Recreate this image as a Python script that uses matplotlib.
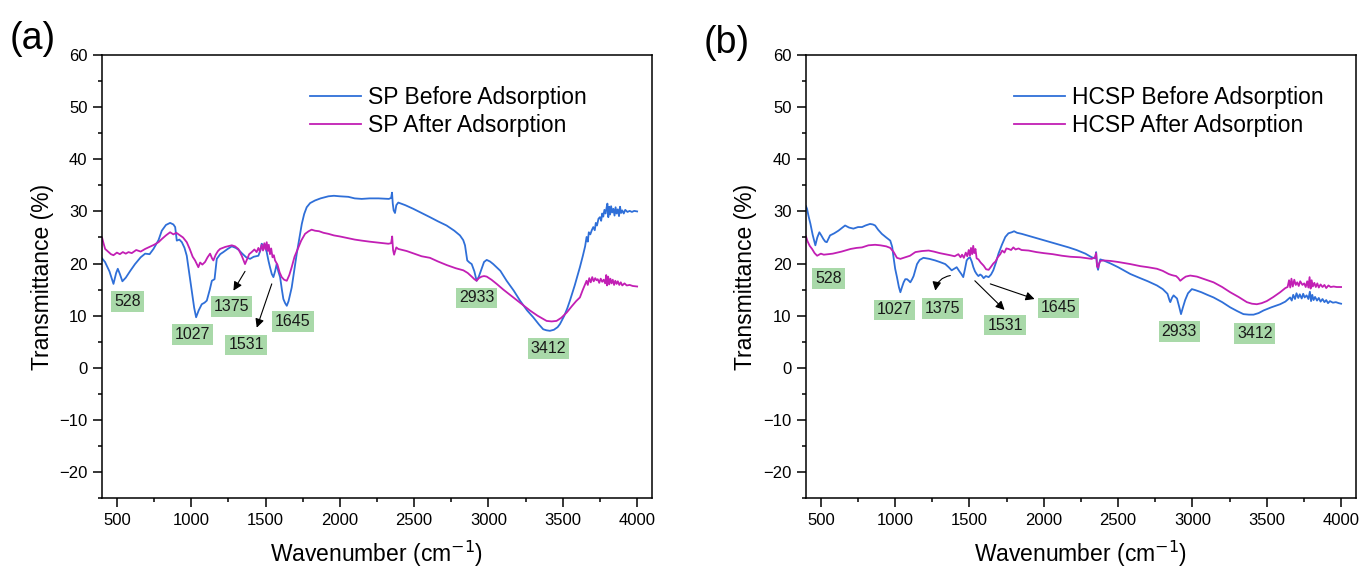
import matplotlib
matplotlib.use("Agg")
import matplotlib.pyplot as plt
import numpy as np
from matplotlib.ticker import MultipleLocator

# ============================================================
# Global style
# ============================================================
plt.rcParams.update({
    "font.family": "sans-serif",
    "font.sans-serif": ["Liberation Sans", "DejaVu Sans"],
    "font.size": 12,
    "axes.linewidth": 1.1,
    "xtick.labelsize": 12,
    "ytick.labelsize": 12,
})

BLUE = "#2f6fd8"
MAGENTA = "#c21fb4"
BOX_GREEN = "#a9d9a9"

# ============================================================
# Data: (wavenumber, transmittance)
# ============================================================
sp_before = [
    (400, 21.0), (420, 20.3), (450, 18.5), (477, 16.1), (495, 18.2), (506, 19.0),
    (520, 18.0), (537, 16.6), (560, 17.3), (590, 18.6), (622, 19.9), (660, 21.2),
    (690, 21.9), (720, 21.8), (746, 22.8), (780, 24.5), (802, 26.3), (830, 27.4),
    (858, 27.8), (880, 27.5), (892, 27.0), (903, 24.4), (920, 24.6), (937, 24.1),
    (955, 23.0), (970, 21.5), (990, 17.5), (1004, 14.8), (1020, 11.5), (1033, 9.7),
    (1050, 11.0), (1071, 12.2), (1090, 12.5), (1105, 12.9), (1125, 15.0), (1139, 16.7),
    (1157, 17.0), (1172, 20.9), (1195, 21.8), (1216, 22.2), (1245, 22.8), (1273, 23.3),
    (1300, 23.0), (1320, 22.6), (1340, 22.0), (1370, 21.2), (1396, 20.9), (1420, 21.3),
    (1452, 21.5), (1465, 22.5), (1474, 23.8), (1485, 23.5), (1497, 23.2), (1508, 22.2),
    (1520, 20.5), (1530, 19.3), (1542, 18.0), (1553, 17.4), (1565, 18.6), (1575, 19.9),
    (1586, 18.5), (1598, 17.4), (1610, 15.0), (1620, 13.2), (1632, 12.4), (1643, 11.9),
    (1655, 12.8), (1665, 14.0), (1676, 15.4), (1692, 18.5), (1710, 21.9), (1727, 24.8),
    (1744, 27.6), (1760, 29.5), (1777, 30.8), (1800, 31.6), (1833, 32.1), (1870, 32.5),
    (1923, 32.9), (1960, 33.0), (2000, 32.9), (2057, 32.8), (2100, 32.5), (2147, 32.4),
    (2200, 32.5), (2260, 32.5), (2330, 32.4), (2345, 32.6), (2351, 33.6), (2356, 31.5),
    (2362, 30.2), (2371, 29.7), (2380, 31.2), (2393, 31.7), (2440, 31.2), (2494, 30.5),
    (2550, 29.7), (2606, 28.9), (2660, 28.1), (2718, 27.3), (2770, 26.3), (2808, 25.4),
    (2830, 24.5), (2842, 23.5), (2852, 21.5), (2857, 20.6), (2872, 20.2), (2887, 19.9),
    (2905, 18.5), (2920, 16.7), (2935, 17.5), (2954, 19.0), (2970, 20.3), (2988, 20.7),
    (3010, 20.4), (3032, 19.9), (3080, 18.6), (3122, 16.7), (3170, 14.8), (3212, 12.9),
    (3260, 11.0), (3301, 9.7), (3340, 8.3), (3368, 7.4), (3390, 7.2), (3413, 7.1),
    (3440, 7.3), (3465, 7.8), (3481, 8.4), (3510, 10.0), (3530, 11.4), (3548, 12.9),
    (3580, 15.8), (3600, 17.8), (3615, 19.3), (3635, 21.5), (3650, 23.3), (3660, 25.1),
    (3668, 24.2), (3675, 26.0), (3685, 25.6), (3695, 26.4), (3705, 27.0), (3715, 26.4),
    (3722, 27.8), (3730, 27.3), (3740, 28.6), (3750, 28.9), (3758, 28.2), (3765, 29.6),
    (3772, 29.0), (3780, 30.3), (3788, 29.6), (3795, 30.8), (3800, 31.5), (3806, 28.9),
    (3812, 30.9), (3818, 29.4), (3825, 31.0), (3832, 29.8), (3840, 30.5), (3848, 29.2),
    (3855, 30.8), (3862, 29.6), (3870, 30.4), (3878, 29.1), (3885, 30.9), (3892, 29.7),
    (3900, 30.2), (3910, 29.6), (3920, 30.3), (3935, 29.9), (3950, 30.1), (3965, 29.9),
    (3980, 30.1), (4000, 30.0),
]

sp_after = [
    (400, 25.0), (410, 23.9), (421, 22.8), (440, 22.3), (460, 21.8), (477, 21.6),
    (500, 22.1), (520, 21.8), (540, 22.2), (560, 21.9), (578, 22.2), (600, 22.0),
    (630, 22.6), (660, 22.3), (690, 22.8), (720, 23.2), (750, 23.6), (780, 24.1),
    (802, 24.7), (830, 25.4), (858, 26.0), (880, 25.6), (900, 25.9), (925, 25.4),
    (945, 25.0), (970, 24.1), (990, 22.8), (1010, 21.3), (1026, 20.6), (1048, 19.3),
    (1060, 20.2), (1075, 19.8), (1093, 20.3), (1110, 21.2), (1127, 21.9), (1140, 21.0),
    (1149, 20.6), (1165, 21.7), (1180, 22.4), (1194, 22.8), (1230, 23.2), (1273, 23.5),
    (1295, 23.3), (1317, 22.8), (1340, 21.5), (1362, 19.9), (1375, 20.8), (1390, 21.8),
    (1407, 22.2), (1425, 22.7), (1440, 22.2), (1452, 23.0), (1462, 22.3), (1474, 23.6),
    (1483, 22.5), (1492, 23.9), (1500, 22.7), (1508, 24.1), (1515, 22.4), (1522, 23.6),
    (1530, 21.8), (1538, 22.9), (1547, 21.2), (1556, 21.6), (1564, 20.6), (1580, 19.8),
    (1595, 18.3), (1609, 17.4), (1625, 16.9), (1643, 16.7), (1660, 17.8), (1676, 19.3),
    (1695, 21.3), (1721, 23.1), (1740, 24.4), (1766, 25.7), (1790, 26.2), (1810, 26.5),
    (1833, 26.3), (1860, 26.2), (1890, 25.9), (1923, 25.7), (1960, 25.4), (2000, 25.2),
    (2050, 24.9), (2100, 24.6), (2147, 24.4), (2200, 24.2), (2260, 24.0), (2326, 23.8),
    (2345, 23.9), (2352, 25.2), (2358, 22.6), (2365, 21.7), (2372, 22.4), (2380, 23.1),
    (2393, 22.8), (2450, 22.4), (2500, 21.9), (2550, 21.4), (2606, 21.1), (2660, 20.4),
    (2720, 19.7), (2780, 19.1), (2831, 18.7), (2860, 18.2), (2887, 17.5), (2905, 17.0),
    (2920, 16.7), (2935, 17.2), (2954, 17.5), (2970, 17.6), (2988, 17.5), (3020, 16.9),
    (3055, 16.1), (3100, 15.0), (3167, 13.5), (3220, 12.3), (3279, 11.0), (3330, 10.0),
    (3391, 9.0), (3425, 8.9), (3458, 9.0), (3490, 9.6), (3526, 10.6), (3560, 11.8),
    (3590, 12.8), (3615, 13.5), (3635, 15.0), (3650, 16.0), (3660, 16.7), (3668, 15.9),
    (3678, 17.2), (3688, 16.4), (3698, 17.4), (3708, 16.6), (3718, 17.2), (3727, 16.8),
    (3735, 17.0), (3745, 16.3), (3755, 17.1), (3765, 16.5), (3775, 16.9), (3785, 16.2),
    (3792, 17.8), (3798, 15.8), (3805, 17.5), (3812, 16.0), (3820, 17.1), (3828, 16.2),
    (3836, 16.9), (3845, 15.9), (3853, 16.7), (3862, 16.1), (3870, 16.6), (3880, 15.9),
    (3890, 16.4), (3900, 15.8), (3915, 16.2), (3930, 15.8), (3950, 15.9), (3970, 15.7),
    (4000, 15.6),
]

hcsp_before = [
    (400, 31.0), (407, 30.5), (418, 29.0), (430, 27.6), (445, 25.5), (463, 23.5),
    (476, 25.0), (490, 26.0), (503, 25.4), (517, 24.7), (530, 24.2), (540, 24.1),
    (552, 24.8), (562, 25.4), (590, 25.8), (618, 26.3), (640, 26.8), (663, 27.3),
    (690, 26.9), (719, 26.7), (750, 27.0), (777, 27.0), (800, 27.3), (831, 27.6),
    (850, 27.5), (865, 27.3), (885, 26.5), (910, 25.7), (940, 25.0), (967, 24.4),
    (980, 23.2), (989, 21.2), (1000, 19.0), (1012, 17.4), (1025, 15.5), (1035, 14.5),
    (1045, 15.4), (1057, 16.4), (1068, 17.0), (1080, 17.0), (1092, 16.7), (1102, 16.4),
    (1114, 17.0), (1124, 17.6), (1135, 18.7), (1147, 19.9), (1165, 20.7), (1190, 21.1),
    (1230, 20.9), (1269, 20.6), (1300, 20.3), (1337, 19.9), (1360, 19.3), (1380, 18.7),
    (1397, 19.0), (1414, 19.3), (1430, 18.6), (1445, 18.0), (1458, 17.4), (1470, 19.0),
    (1481, 20.6), (1492, 21.0), (1503, 21.2), (1515, 20.4), (1526, 19.3), (1537, 18.5),
    (1548, 18.0), (1560, 17.6), (1572, 17.9), (1582, 17.7), (1595, 17.2), (1610, 17.6),
    (1629, 17.4), (1645, 17.9), (1660, 18.7), (1678, 20.2), (1695, 21.9), (1718, 23.6),
    (1741, 25.1), (1762, 25.8), (1784, 26.0), (1800, 26.2), (1820, 25.9), (1851, 25.7),
    (1900, 25.3), (1950, 24.9), (2008, 24.4), (2060, 24.0), (2110, 23.6), (2167, 23.1),
    (2220, 22.6), (2280, 21.9), (2322, 21.2), (2345, 21.0), (2352, 22.2), (2358, 19.6),
    (2365, 18.8), (2372, 19.9), (2380, 20.8), (2402, 20.6), (2450, 20.0), (2500, 19.3),
    (2582, 18.0), (2640, 17.3), (2700, 16.6), (2761, 15.8), (2800, 15.1), (2832, 14.2),
    (2845, 13.0), (2851, 12.6), (2862, 13.4), (2873, 13.9), (2885, 13.6), (2896, 13.3),
    (2910, 11.8), (2923, 10.3), (2935, 11.5), (2951, 13.0), (2970, 14.3), (2996, 15.1),
    (3020, 14.9), (3060, 14.5), (3100, 14.0), (3142, 13.5), (3200, 12.6), (3254, 11.6),
    (3300, 10.9), (3343, 10.3), (3380, 10.2), (3411, 10.2), (3445, 10.5), (3478, 11.0),
    (3530, 11.6), (3590, 12.2), (3625, 12.7), (3657, 13.5), (3668, 12.9), (3678, 14.0),
    (3690, 13.2), (3700, 14.3), (3712, 13.4), (3722, 14.1), (3735, 13.3), (3745, 14.2),
    (3755, 13.5), (3768, 13.9), (3780, 13.2), (3790, 14.6), (3798, 12.8), (3806, 14.0),
    (3815, 13.0), (3825, 13.6), (3838, 12.9), (3850, 13.4), (3862, 12.7), (3875, 13.2),
    (3888, 12.6), (3900, 13.0), (3912, 12.4), (3925, 12.8), (3945, 12.5), (3965, 12.6),
    (3985, 12.4), (4000, 12.3),
]

hcsp_after = [
    (400, 25.2), (410, 24.3), (425, 23.4), (441, 22.8), (458, 22.0), (475, 21.5),
    (500, 21.9), (520, 21.7), (552, 21.8), (580, 21.9), (610, 22.1), (640, 22.3),
    (663, 22.5), (700, 22.8), (740, 23.0), (777, 23.1), (820, 23.5), (865, 23.6),
    (900, 23.5), (940, 23.3), (967, 23.0), (990, 22.2), (1012, 21.1), (1035, 20.9),
    (1068, 21.2), (1100, 21.5), (1136, 22.2), (1180, 22.4), (1225, 22.5), (1260, 22.3),
    (1300, 22.0), (1337, 21.8), (1370, 21.6), (1400, 21.4), (1425, 21.8), (1440, 21.2),
    (1450, 21.7), (1462, 21.1), (1475, 22.1), (1485, 21.4), (1495, 22.6), (1503, 21.5),
    (1510, 23.0), (1518, 21.8), (1525, 23.4), (1532, 22.0), (1540, 22.8), (1548, 21.0),
    (1560, 20.8), (1575, 20.2), (1595, 19.6), (1612, 18.9), (1629, 18.8), (1645, 19.4),
    (1660, 20.0), (1675, 20.4), (1690, 21.2), (1707, 21.8), (1720, 22.5), (1735, 22.1),
    (1748, 22.9), (1763, 22.8), (1780, 22.6), (1795, 23.1), (1810, 22.7), (1830, 22.9),
    (1850, 22.6), (1897, 22.5), (1950, 22.2), (2000, 22.0), (2060, 21.8), (2122, 21.5),
    (2180, 21.3), (2245, 21.2), (2300, 21.0), (2322, 20.9), (2345, 21.2), (2352, 22.0),
    (2358, 19.5), (2365, 19.2), (2372, 20.0), (2380, 20.5), (2402, 20.6), (2450, 20.5),
    (2500, 20.3), (2582, 19.9), (2650, 19.5), (2700, 19.3), (2761, 19.0), (2800, 18.6),
    (2840, 18.0), (2860, 17.8), (2873, 17.7), (2890, 17.6), (2905, 17.2), (2918, 16.7),
    (2935, 17.1), (2955, 17.5), (2985, 17.7), (3030, 17.5), (3080, 17.0), (3142, 16.4),
    (3200, 15.5), (3254, 14.5), (3310, 13.6), (3366, 12.6), (3400, 12.3), (3433, 12.2),
    (3465, 12.4), (3500, 12.8), (3545, 13.6), (3590, 14.5), (3625, 15.3), (3640, 15.5),
    (3650, 16.8), (3658, 15.4), (3666, 17.1), (3675, 15.6), (3685, 16.9), (3695, 15.9),
    (3705, 16.4), (3715, 15.7), (3725, 16.6), (3740, 15.9), (3752, 16.2), (3762, 15.5),
    (3772, 16.6), (3780, 15.4), (3788, 17.4), (3795, 15.2), (3802, 16.8), (3810, 15.6),
    (3820, 16.3), (3830, 15.5), (3840, 16.2), (3850, 15.4), (3862, 16.0), (3875, 15.5),
    (3888, 15.9), (3900, 15.3), (3915, 15.8), (3930, 15.5), (3950, 15.6), (3970, 15.5),
    (4000, 15.5),
]

# peak labels: (text, x, y)
peaks_a = [("528", 572, 12.7), ("1027", 1006, 6.4), ("1375", 1270, 11.8),
           ("1531", 1369, 4.4), ("1645", 1685, 8.9), ("2933", 2920, 13.4),
           ("3412", 3403, 3.7)]
peaks_b = [("528", 551, 17.2), ("1027", 993, 11.1), ("1375", 1319, 11.4),
           ("1531", 1739, 8.2), ("1645", 2097, 11.5), ("2933", 2912, 6.9),
           ("3412", 3419, 6.6)]

# arrows: (tail x, tail y, head x, head y, curvature)
arrows_a = [(1362, 18.5, 1284, 14.8, 0.0), (1542, 16.1, 1441, 7.7, 0.0)]
arrows_b = [(1371, 17.7, 1270, 14.8, 0.35), (1536, 16.7, 1736, 11.1, 0.0),
            (1640, 16.1, 1938, 13.2, 0.0)]

panels = [
    ("(a)", sp_before, sp_after, "SP Before Adsorption", "SP After Adsorption", peaks_a, arrows_a),
    ("(b)", hcsp_before, hcsp_after, "HCSP Before Adsorption", "HCSP After Adsorption", peaks_b, arrows_b),
]

# ============================================================
# Figure
# ============================================================
fig = plt.figure(figsize=(13.64, 5.70), dpi=100)
axes_pos = [[0.0748, 0.126, 0.4032, 0.7775], [0.5909, 0.126, 0.4032, 0.7775]]
tag_pos = [(0.0242, 0.9316), (0.533, 0.9246)]

for i, (tag, before, after, lab_b, lab_a, peaks, arrows) in enumerate(panels):
    ax = fig.add_axes(axes_pos[i])
    xb, yb = np.array(before).T
    xa, ya = np.array(after).T
    ax.plot(xb, yb, color=BLUE, lw=1.3, label=lab_b)
    ax.plot(xa, ya, color=MAGENTA, lw=1.3, label=lab_a)

    ax.set_xlim(400, 4100)
    ax.set_ylim(-25, 60)
    ax.xaxis.set_major_locator(MultipleLocator(500))
    ax.xaxis.set_minor_locator(MultipleLocator(250))
    ax.yaxis.set_major_locator(MultipleLocator(10))
    ax.yaxis.set_minor_locator(MultipleLocator(5))
    ax.tick_params(which="major", direction="out", length=6.5, width=1.1, pad=4)
    ax.tick_params(which="minor", direction="out", length=3, width=1.1)
    ax.set_xticks([500, 1000, 1500, 2000, 2500, 3000, 3500, 4000])

    ax.set_xlabel("Wavenumber (cm$^{-1}$)", fontsize=16.5, labelpad=8)
    ax.set_ylabel("Transmittance (%)", fontsize=16.5, labelpad=4)

    for txt, px, py in peaks:
        ax.text(px, py, txt, ha="center", va="center", fontsize=11.5, color="#1a1a1a",
                bbox=dict(boxstyle="square,pad=0.18", fc=BOX_GREEN, ec="none"))

    for x0, y0, x1, y1, rad in arrows:
        ax.annotate("", xy=(x1, y1), xytext=(x0, y0),
                    arrowprops=dict(arrowstyle="-|>", color="black", lw=0.8,
                                    mutation_scale=13, shrinkA=0, shrinkB=0,
                                    connectionstyle=f"arc3,rad={rad}"))

    ax.legend(loc="upper left", bbox_to_anchor=(0.378, 0.93), frameon=False,
              fontsize=16.5, handlelength=2.25, handletextpad=0.3, labelspacing=0.2,
              borderpad=0, borderaxespad=0)

    fig.text(tag_pos[i][0], tag_pos[i][1], tag, fontsize=27, ha="center", va="center")

fig.savefig("out.png", dpi=100)
